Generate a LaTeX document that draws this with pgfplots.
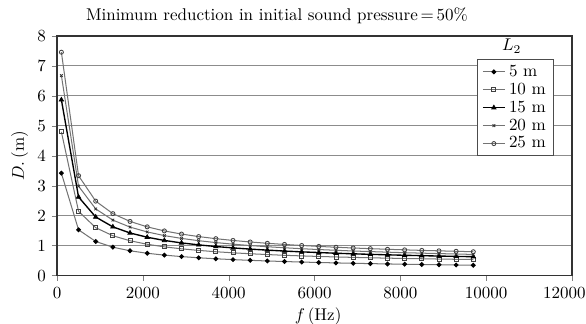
\documentclass[border=0pt]{standalone}
\usepackage{pgfplots}
\pgfplotsset{compat=1.18}
\begin{document}
\begin{tikzpicture}
\begin{axis}[
  scale only axis,
  width=303pt, height=141pt,
  xmin=0, xmax=12000, ymin=0, ymax=8,
  xtick={0,2000,...,12000}, ytick={0,1,...,8},
  scaled x ticks=false,
  xticklabels={0,2000,4000,6000,8000,10000,{\hspace*{-9pt}12000}},
  tick align=outside, xtick pos=bottom, ytick pos=left,
  major tick length=3pt,
  axis line style={black!80, line width=1pt},
  ymajorgrids, grid style={black!45, line width=0.6pt},
  title={Minimum reduction in initial sound pressure\,=\,50\%},
  title style={at={(axis description cs:0.427,1)}, anchor=center, yshift=6.2pt},
  xlabel={$f$\,(Hz)}, ylabel={$D.$\,(m)},
  xlabel style={at={(axis description cs:0.507,0)}, anchor=center, yshift=-24pt},
  ylabel style={at={(axis description cs:-0.073,0.5)}, anchor=center},
  legend cell align=left,
  legend style={at={(0.965,0.903)}, anchor=north east, draw=black!70, line width=0.6pt,
    font=\normalsize, row sep=-1.6pt, inner xsep=2.5pt, inner ysep=1pt},
  legend image code/.code={\draw[mark repeat=2,mark phase=2,#1] plot coordinates {(0pt,0pt) (6.5pt,0pt) (13pt,0pt)};},
  every axis plot/.append style={line width=0.6pt},
]
\addplot[black!55, mark=*, mark size=1.1pt, mark options={black, fill=black}] coordinates {
(100,3.42) (500,1.529) (900,1.140) (1300,0.949) (1700,0.829) (2100,0.746) (2500,0.684)
(2900,0.635) (3300,0.595) (3700,0.562) (4100,0.534) (4500,0.510) (4900,0.489) (5300,0.470)
(5700,0.453) (6100,0.438) (6500,0.424) (6900,0.412) (7300,0.400) (7700,0.390) (8100,0.380)
(8500,0.371) (8900,0.363) (9300,0.355) (9700,0.347)};
\addlegendentry{5 m}
\addplot[black!55, mark=square, mark size=1.2pt, mark options={black!75, fill=white, line width=0.5pt}] coordinates {
(100,4.8) (500,2.147) (900,1.6) (1300,1.331) (1700,1.164) (2100,1.047) (2500,0.96)
(2900,0.894) (3300,0.842) (3700,0.797) (4100,0.761) (4500,0.730) (4900,0.703) (5300,0.678)
(5700,0.658) (6100,0.640) (6500,0.623) (6900,0.609) (7300,0.595) (7700,0.583) (8100,0.572)
(8500,0.563) (8900,0.553) (9300,0.545) (9700,0.537)};
\addlegendentry{10 m}
\addplot[black, line width=0.8pt, mark=triangle*, mark size=1.5pt, mark options={black, fill=black, line width=0.4pt}] coordinates {
(100,5.87) (500,2.625) (900,1.957) (1300,1.628) (1700,1.424) (2100,1.281) (2500,1.174)
(2900,1.092) (3300,1.026) (3700,0.971) (4100,0.925) (4500,0.885) (4900,0.851) (5300,0.820)
(5700,0.793) (6100,0.770) (6500,0.747) (6900,0.728) (7300,0.710) (7700,0.694) (8100,0.679)
(8500,0.666) (8900,0.653) (9300,0.642) (9700,0.631)};
\addlegendentry{15 m}
\addplot[black!55, mark=x, mark size=1.1pt, mark options={black!80, line width=0.5pt}] coordinates {
(100,6.68) (500,2.987) (900,2.227) (1300,1.853) (1700,1.620) (2100,1.458) (2500,1.336)
(2900,1.242) (3300,1.166) (3700,1.103) (4100,1.050) (4500,1.004) (4900,0.964) (5300,0.930)
(5700,0.898) (6100,0.870) (6500,0.846) (6900,0.822) (7300,0.802) (7700,0.783) (8100,0.765)
(8500,0.750) (8900,0.735) (9300,0.721) (9700,0.708)};
\addlegendentry{20 m}
\addplot[black!55, mark=o, mark size=1.2pt, mark options={black!75, fill=white, line width=0.5pt}] coordinates {
(100,7.46) (500,3.336) (900,2.487) (1300,2.069) (1700,1.809) (2100,1.628) (2500,1.492)
(2900,1.387) (3300,1.303) (3700,1.233) (4100,1.174) (4500,1.123) (4900,1.079) (5300,1.041)
(5700,1.006) (6100,0.975) (6500,0.947) (6900,0.922) (7300,0.900) (7700,0.879) (8100,0.860)
(8500,0.842) (8900,0.827) (9300,0.812) (9700,0.797)};
\addlegendentry{25 m}
\node[anchor=center] at (rel axis cs:0.883,0.958) {$L_2$};
\end{axis}
\pgfresetboundingbox
\path[use as bounding box] ([xshift=-33.6pt,yshift=-28pt]current axis.south west) rectangle ([xshift=8.25pt,yshift=21.2pt]current axis.north east);
\end{tikzpicture}
\end{document}
